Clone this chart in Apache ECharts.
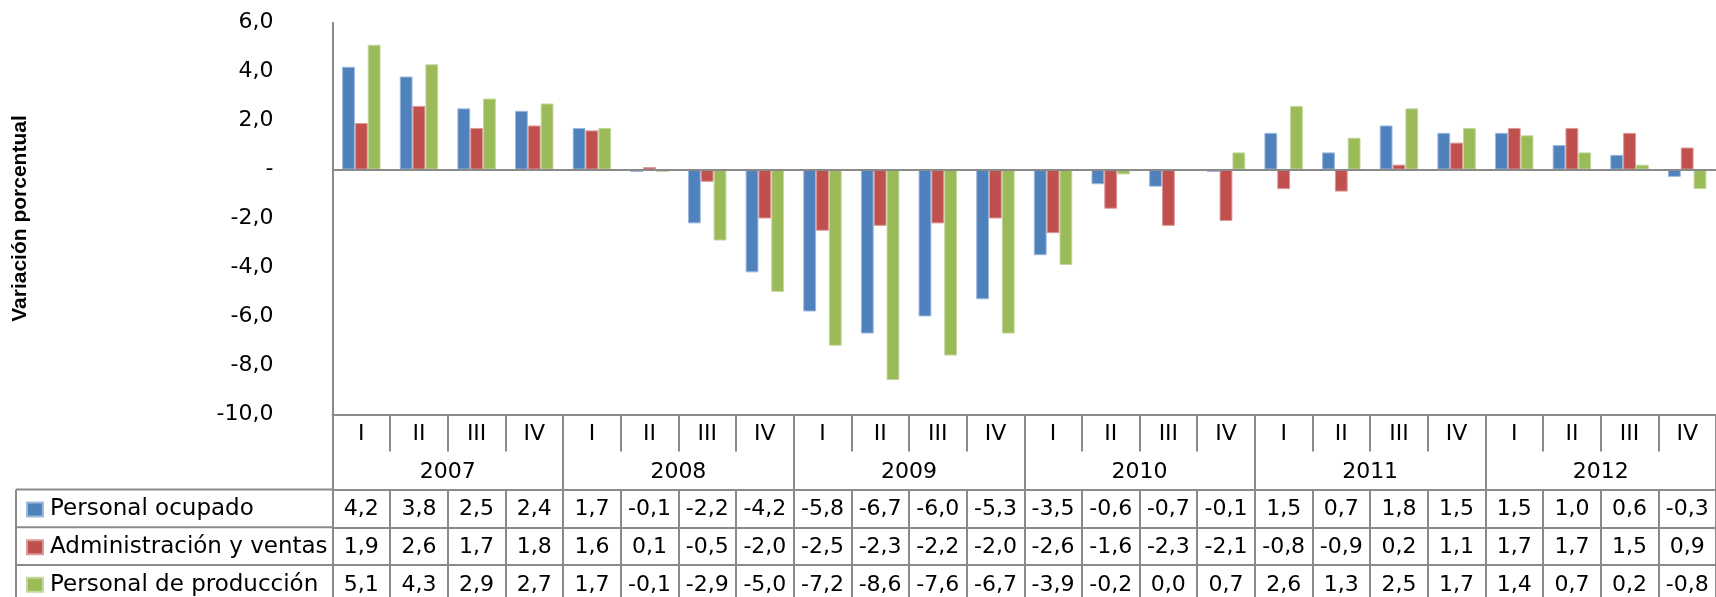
<!DOCTYPE html>
<html>
<head>
<meta charset="utf-8">
<script src="https://cdn.jsdelivr.net/npm/echarts@6/dist/echarts.min.js"></script>
<style>
html,body{margin:0;padding:0;background:#fff;}
#chart{width:1716px;height:597px;}
</style>
</head>
<body>
<div id="chart"></div>
<script>
// ---- data ----
const years = ['2007', '2008', '2009', '2010', '2011', '2012'];
const quarterLabels = ['I', 'II', 'III', 'IV'];
const seriesNames = ['Personal ocupado', 'Administración y ventas', 'Personal de producción'];
const personalOcupado = [4.2, 3.8, 2.5, 2.4, 1.7, -0.1, -2.2, -4.2, -5.8, -6.7, -6.0, -5.3, -3.5, -0.6, -0.7, -0.1, 1.5, 0.7, 1.8, 1.5, 1.5, 1.0, 0.6, -0.3];
const administracionVentas = [1.9, 2.6, 1.7, 1.8, 1.6, 0.1, -0.5, -2.0, -2.5, -2.3, -2.2, -2.0, -2.6, -1.6, -2.3, -2.1, -0.8, -0.9, 0.2, 1.1, 1.7, 1.7, 1.5, 0.9];
const personalProduccion = [5.1, 4.3, 2.9, 2.7, 1.7, -0.1, -2.9, -5.0, -7.2, -8.6, -7.6, -6.7, -3.9, -0.2, 0.0, 0.7, 2.6, 1.3, 2.5, 1.7, 1.4, 0.7, 0.2, -0.8];
const yTicks = { min: -10, max: 6, interval: 2 };

// ---- layout / style ----
const FONT = 'DejaVu Sans';
const FS = 22;
const LINE = '#8a8a8a';
const LW = 2;
const gridLeft = 332.5, gridTop = 22.7, gridWidth = 1388.6, gridHeight = 391.6;
const rowQ = 37.3, rowY = 38, rowD = 37.7;
const colors = ['#4F81BD', '#C0504D', '#9BBB59'];
const borders = ['#9DB9DB', '#DA9897', '#C3D89F'];

const categories = [];
years.forEach(y => quarterLabels.forEach(q => categories.push(y + ' ' + q)));
const fmt = v => (v === 0 ? '0,0' : v.toFixed(1).replace('.', ','));
const rows = [personalOcupado, administracionVentas, personalProduccion];

const tableTop = gridTop + gridHeight + rowQ + rowY;
const rowAxes = rows.map((arr, i) => ({
  type: 'category', gridIndex: 0, position: 'bottom',
  offset: rowQ + rowY + i * rowD,
  data: arr.map(fmt),
  axisLine: { show: true, onZero: false, lineStyle: { color: LINE, width: LW } },
  axisTick: { show: true, interval: 0, length: rowD, lineStyle: { color: LINE, width: LW } },
  axisLabel: { interval: 0, margin: 9, color: '#000', fontFamily: FONT, fontSize: FS },
  splitLine: { show: false }
}));

const chart = echarts.init(document.getElementById('chart'), null, { renderer: 'canvas' });
const lineStyle = { stroke: LINE, lineWidth: LW };
const graphic = [
  { type: 'line', shape: { x1: 16, y1: tableTop, x2: 16, y2: 597 }, style: lineStyle, silent: true }
];
for (let i = 0; i < 3; i++) {
  const y = tableTop + i * rowD;
  graphic.push({ type: 'line', shape: { x1: 16, y1: y, x2: gridLeft, y2: y }, style: lineStyle, silent: true });
}

const LFS = 23;
chart.setOption({
  animation: false,
  textStyle: { fontFamily: FONT },
  grid: { left: gridLeft, top: gridTop, width: gridWidth, height: gridHeight, containLabel: false },
  legend: {
    orient: 'vertical', left: 26, top: tableTop + (rowD - LFS) / 2 + 1,
    height: 140, padding: 0,
    itemWidth: 16, itemHeight: 14, itemGap: rowD - LFS, icon: 'rect',
    textStyle: { fontFamily: FONT, fontSize: LFS, color: '#000', padding: [0, 0, 0, 2] },
    data: seriesNames
  },
  xAxis: [
    {
      type: 'category', gridIndex: 0, position: 'bottom', data: categories,
      axisLine: { show: true, onZero: false, lineStyle: { color: LINE, width: LW } },
      axisTick: { show: true, interval: 0, length: rowQ, lineStyle: { color: LINE, width: LW } },
      axisLabel: { interval: 0, margin: 9, color: '#000', fontFamily: FONT, fontSize: FS,
        formatter: v => v.split(' ')[1] },
      splitLine: { show: false }
    },
    {
      type: 'category', gridIndex: 0, position: 'bottom', offset: rowQ, data: years,
      axisLine: { show: false, onZero: false },
      axisTick: { show: true, interval: 0, length: rowY, lineStyle: { color: LINE, width: LW } },
      axisLabel: { interval: 0, margin: 10, color: '#000', fontFamily: FONT, fontSize: FS },
      splitLine: { show: false }
    },
    ...rowAxes
  ],
  yAxis: {
    type: 'value', min: yTicks.min, max: yTicks.max, interval: yTicks.interval,
    name: 'Variación porcentual', nameLocation: 'middle', nameRotate: 90, nameGap: 302,
    nameTextStyle: { fontFamily: 'Liberation Sans', fontWeight: 'bold', fontSize: 21, color: '#000' },
    axisLine: { show: true, lineStyle: { color: LINE, width: LW } },
    axisTick: { show: false },
    splitLine: { show: false },
    axisLabel: { margin: 59, color: '#000', fontFamily: FONT, fontSize: FS,
      formatter: v => (v === 0 ? '-' : v.toFixed(1).replace('.', ',')) }
  },
  graphic: graphic,
  series: rows.map((arr, i) => ({
    name: seriesNames[i], type: 'bar', xAxisIndex: 0, data: arr,
    barGap: '0%', barCategoryGap: '33.3%',
    itemStyle: { color: colors[i], borderColor: borders[i], borderWidth: 1 },
    markLine: i === 0 ? {
      silent: true, symbol: 'none', label: { show: false },
      lineStyle: { color: LINE, width: LW, type: 'solid' },
      data: [{ yAxis: 0 }]
    } : undefined
  }))
});
</script>
</body>
</html>
